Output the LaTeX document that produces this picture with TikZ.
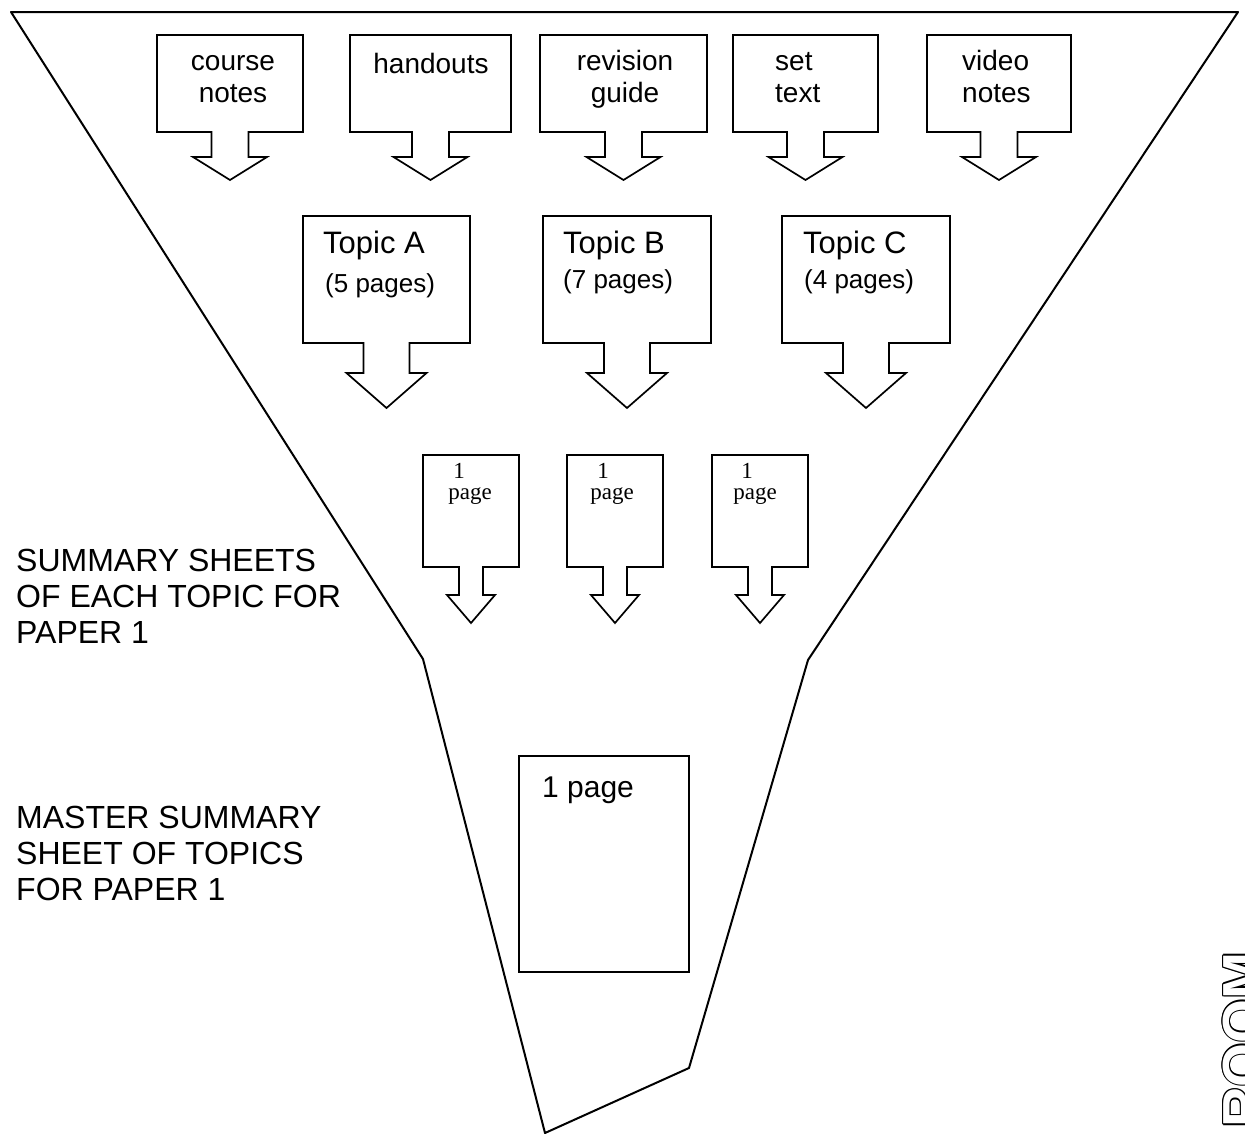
\documentclass[tikz,border=0pt]{standalone}
\usepackage{fontspec}
\setmainfont{Liberation Sans}
\newfontfamily\serifface{Liberation Serif}
\begin{document}
\begin{tikzpicture}[x=1pt,y=-1pt,
  outl/.style={draw=black,line width=1.7pt,line join=miter,fill=white},
  funnel/.style={draw=black,line width=2pt,line join=round},
  txt/.style={inner sep=0pt,anchor=base,font=\fontsize{28}{33}\selectfont},
  txtl/.style={txt,anchor=base west},
  topic/.style={inner sep=0pt,anchor=base west,font=\fontsize{31}{36}\selectfont},
  pages/.style={inner sep=0pt,anchor=base west,font=\fontsize{26}{30}\selectfont},
  small/.style={inner sep=0pt,anchor=base,font=\serifface\fontsize{23}{26}\selectfont},
  label/.style={inner sep=0pt,anchor=base west,font=\fontsize{32}{36}\selectfont},
  big/.style={inner sep=0pt,anchor=base west,font=\fontsize{30}{34}\selectfont},
  room/.style={inner sep=0pt,anchor=north west,rotate=90,font=\bfseries\fontsize{56.5}{60}\selectfont}]
\useasboundingbox (0,0) rectangle (1245,1135);
% callout: #1 left, #2 right, #3 top, #4 bottom, #5 stem half width, #6 head half width, #7 stem end, #8 tip
\newcommand{\calloutbox}[8]{%
  \pgfmathsetmacro\cx{(#1+#2)/2}%
  \draw[outl] (#1,#3) -- (#2,#3) -- (#2,#4) -- (\cx+#5,#4) -- (\cx+#5,#7) -- (\cx+#6,#7)
    -- (\cx,#8) -- (\cx-#6,#7) -- (\cx-#5,#7) -- (\cx-#5,#4) -- (#1,#4) -- cycle;}
% funnel
\draw[funnel] (11,12) coordinate (f1) -- (1238,12) coordinate (f2) -- (808,660) coordinate (f3)
  -- (689,1068) coordinate (f4) -- (545,1133) coordinate (f5) -- (423,659) coordinate (f6) -- cycle;
% top row
\calloutbox{157}{303}{35}{132}{18.5}{37}{157}{180}
\calloutbox{350}{511}{35}{132}{18.5}{37}{157}{180}
\calloutbox{540}{707}{35}{132}{18.5}{37}{157}{180}
\calloutbox{733}{878}{35}{132}{18.5}{37}{157}{180}
\calloutbox{927}{1071}{35}{132}{18.5}{37}{157}{180}
\node[txt] (t1a) at (233,70) {course};
\node[txt] (t1b) at (233,102) {notes};
\node[txt] (t2a) at (431,73) {handouts};
\node[txt] (t3a) at (625,70) {revision};
\node[txt] (t3b) at (625,102) {guide};
\node[txtl] (t4a) at (775,70) {set};
\node[txtl] (t4b) at (775,102) {text};
\node[txtl] (t5a) at (962,70) {video};
\node[txtl] (t5b) at (962,102) {notes};
% middle row
\calloutbox{303}{470}{216}{343}{23}{40}{373}{408}
\calloutbox{543}{711}{216}{343}{23}{40}{373}{408}
\calloutbox{782}{950}{216}{343}{23}{40}{373}{408}
\node[topic] (ta) at (323,253) {Topic A};
\node[pages] (pa) at (325,292) {(5 pages)};
\node[topic] (tb) at (563,253) {Topic B};
\node[pages] (pb) at (563,288) {(7 pages)};
\node[topic] (tc) at (803,253) {Topic C};
\node[pages] (pc) at (804,288) {(4 pages)};
% small row
\calloutbox{423}{519}{455}{567}{12}{24}{595}{623}
\calloutbox{567}{663}{455}{567}{12}{24}{595}{623}
\calloutbox{712}{808}{455}{567}{12}{24}{595}{623}
\node[small] (s1a) at (459,478) {1};
\node[small] (s1b) at (470,499) {page};
\node[small] (s2a) at (603,478) {1};
\node[small] (s2b) at (612,499) {page};
\node[small] (s3a) at (747,478) {1};
\node[small] (s3b) at (755,499) {page};
% big box
\draw[outl] (519,756) rectangle (689,972);
\node[big] (bp) at (542,797) {1 page};
% labels
\node[label] (l1) at (16,571) {SUMMARY SHEETS};
\node[label] (l2) at (16,607) {OF EACH TOPIC FOR};
\node[label] (l3) at (16,643) {PAPER 1};
\node[label] (m1) at (16,828) {MASTER SUMMARY};
\node[label] (m2) at (16,864) {SHEET OF TOPICS};
\node[label] (m3) at (16,900) {FOR PAPER 1};
% watermark (outlined, cut off at the right edge as in the reference)
\foreach \dx/\dy [count=\i] in {-1.3/0,1.3/0,0/-1.3,0/1.3,-0.9/-0.9,0.9/0.9,-0.9/0.9,0.9/-0.9}
  \node[room,text=black] (roomo\i) at (1223+\dx,1128+\dy) {ROOM};
\node[room,text=white] (room) at (1223,1128) {ROOM};
\end{tikzpicture}
\end{document}
